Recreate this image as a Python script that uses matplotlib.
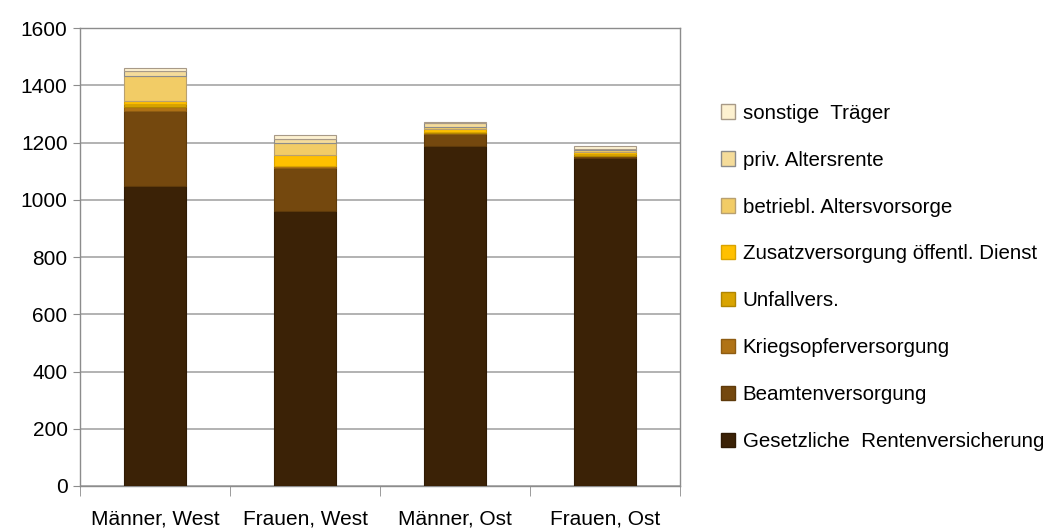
import numpy as np
import matplotlib.pyplot as plt
from matplotlib.patches import Patch

plt.rcParams['font.family'] = ['Liberation Sans', 'DejaVu Sans']

categories = ["Männer, West", "Frauen, West", "Männer, Ost", "Frauen, Ost"]
series_names = ["Gesetzliche  Rentenversicherung", "Beamtenversorgung", "Kriegsopferversorgung",
                "Unfallvers.", "Zusatzversorgung öffentl. Dienst", "betriebl. Altersvorsorge",
                "priv. Altersrente", "sonstige  Träger"]
grv = [1050, 960, 1188, 1148]
beamten = [262, 152, 42, 5]
kriegsopfer = [12, 5, 3, 2]
unfall = [10, 3, 5, 5]
zusatz = [12, 37, 10, 8]
betriebl = [88, 42, 6, 6]
priv = [16, 12, 15, 5]
sonstige = [10, 14, 3, 8]

values = [grv, beamten, kriegsopfer, unfall, zusatz, betriebl, priv, sonstige]
colors = ["#3b2206", "#74480e", "#b07316", "#d9a400", "#ffc000", "#f2cc66", "#f5dc9a", "#fdf1d0"]
edges = ["#2e1a04", "#5e3a0b", "#8e5c12", "#b08500", "#d9a300", "#b8a070", "#8c8c8c", "#a89a88"]

fig = plt.figure(figsize=(10.54, 5.32), dpi=100)
ax = fig.add_axes([0.076, 0.0865, 0.569, 0.8605])

x = np.arange(len(categories))
bottom = np.zeros(len(categories))
for v, c, e in zip(values, colors, edges):
    ax.bar(x, v, width=0.41, bottom=bottom, color=c, edgecolor=e, linewidth=0.8, zorder=3)
    bottom += np.array(v)

ax.set_xlim(-0.5, 3.5)
ax.set_ylim(0, 1600)
ax.set_yticks(np.arange(0, 1601, 200))
ax.yaxis.grid(True, color="#a6a6a6", linewidth=1.2, zorder=0)
ax.set_xticks(x)
ax.set_xticklabels(categories)
ax.set_xticks(np.arange(-0.5, 4.0, 1.0), minor=True)
ax.tick_params(axis='x', which='major', length=0, pad=17, labelsize=15)
ax.tick_params(axis='x', which='minor', length=7, color="#8c8c8c")
ax.tick_params(axis='y', length=5, color="#8c8c8c", labelsize=15, pad=4)
for s in ax.spines.values():
    s.set_color("#8c8c8c")
    s.set_linewidth(1.0)

handles = [Patch(facecolor=c, edgecolor=e, label=n) for n, c, e in zip(series_names, colors, edges)]
fig.legend(handles[::-1], [h.get_label() for h in handles[::-1]], loc="upper left",
           bbox_to_anchor=(0.6665, 0.84), frameon=False, fontsize=14.8,
           handlelength=0.7, handleheight=0.7, handletextpad=0.35, labelspacing=1.36)

fig.savefig("out.png", dpi=100)
